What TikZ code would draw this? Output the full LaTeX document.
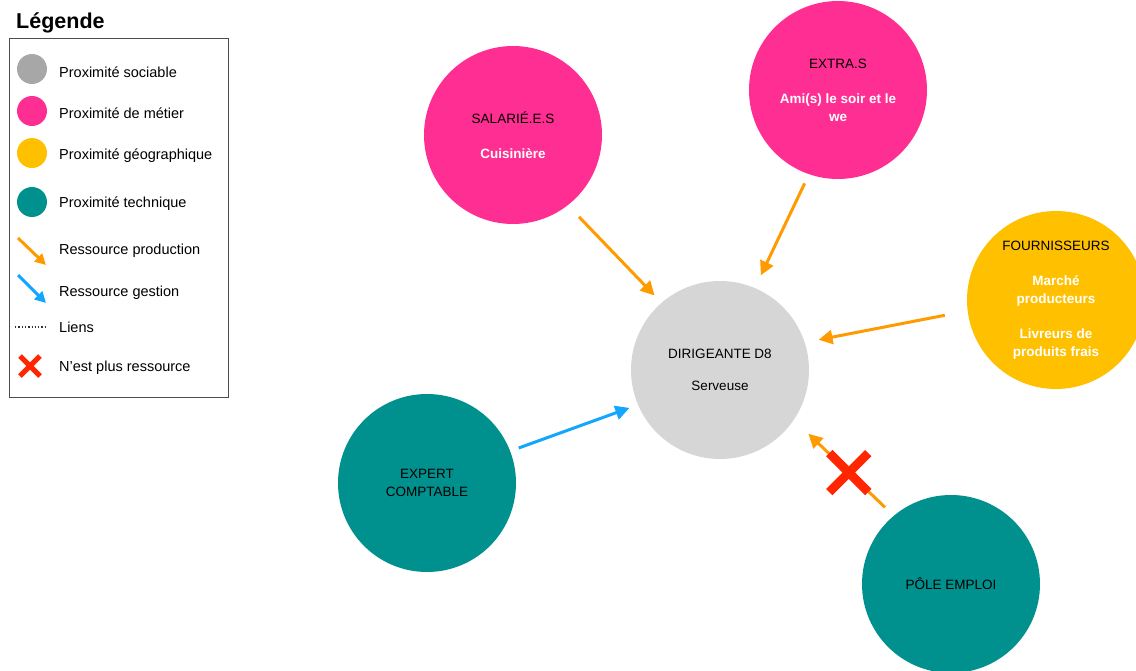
\documentclass[tikz,border=0pt]{standalone}
\usepackage{fontspec}
\setmainfont{Liberation Sans}
\usepackage{xcolor}
\usetikzlibrary{arrows.meta,shapes.misc}

\definecolor{socialgray}{HTML}{D6D6D6}
\definecolor{legendgray}{HTML}{A7A7A7}
\definecolor{metierpink}{HTML}{FF2E92}
\definecolor{geoyellow}{HTML}{FFC000}
\definecolor{techteal}{HTML}{00918F}
\definecolor{prodorange}{HTML}{FF9B00}
\definecolor{gestblue}{HTML}{12A6FF}
\definecolor{crossred}{HTML}{FF2600}

\newcommand{\detail}[1]{\textcolor{white}{\bfseries #1}}

\begin{document}
\begin{tikzpicture}[
  x=1pt, y=-1pt,
  actor/.style={circle, minimum size=178pt, inner sep=0pt, align=center, font=\fontsize{13.5}{17.5}\selectfont},
  social/.style={actor, fill=socialgray},
  metier/.style={actor, fill=metierpink},
  geo/.style={actor, fill=geoyellow},
  tech/.style={actor, fill=techteal},
  prod/.style={-{Triangle[length=14pt,width=14pt]}, line width=3pt, draw=prodorange},
  gest/.style={-{Triangle[length=14pt,width=14pt]}, line width=3pt, draw=gestblue},
  nomore/.style={cross out, draw=crossred, line width=9pt, minimum size=30pt, inner sep=0pt},
  legdot/.style={circle, minimum size=30pt, inner sep=0pt},
  legitem/.style={anchor=west, inner sep=0pt, font=\fontsize{14.5}{17}\selectfont}
]
\useasboundingbox (0,0) rectangle (1136,670);

% Actors
\node[social] (dir) at (720,370) {DIRIGEANTE D8\\[14pt]Serveuse};
\node[metier] (sal) at (513,135) {SALARIÉ.E.S\\[18pt]\detail{Cuisinière}};
\node[metier] (extra) at (838,90) {EXTRA.S\\[18pt]\detail{Ami(s) le soir et le}\\\detail{we}};
\node[geo] (fourn) at (1056,300) {FOURNISSEURS\\[18pt]\detail{Marché}\\\detail{producteurs}\\[18pt]\detail{Livreurs de}\\\detail{produits frais}};
\node[tech] (expert) at (427,483) {EXPERT\\COMPTABLE};
\node[tech] (pole) at (951,584) {PÔLE EMPLOI};

% Resources
\draw[prod, shorten <=16pt, shorten >=10pt] (sal.-52) -- (dir.131);
\draw[prod, shorten <=10pt, shorten >=14pt] (extra.-109) -- (dir.67);
\draw[prod, shorten <=23pt, shorten >=14pt] (fourn.187) -- (dir.18.6);
\draw[gest, shorten <=9pt, shorten >=9pt] (expert.21.6) -- (dir.203.4);
\draw[prod, shorten <=12pt, shorten >=20pt] (pole.130) -- (dir.-34.6);
\path (pole.130) -- node[nomore, pos=0.45] (stop) {} (dir.-34.6);

% Legend
\node[anchor=west, inner sep=0pt, font=\fontsize{21.5}{24}\selectfont\bfseries] (legtitle) at (16,23) {Légende};
\draw[draw=black!70, line width=0.8pt] (9,38) rectangle (228,397);
\node[legdot, fill=legendgray] (ldot1) at (32,69) {};
\node[legdot, fill=metierpink] (ldot2) at (32,111) {};
\node[legdot, fill=geoyellow] (ldot3) at (32,153) {};
\node[legdot, fill=techteal] (ldot4) at (32,202) {};
\node[legitem] (leg1) at (59,72) {Proximité sociable};
\node[legitem] (leg2) at (59,113) {Proximité de métier};
\node[legitem] (leg3) at (59,156) {Proximité géographique};
\node[legitem] (leg4) at (59,204) {Proximité technique};
\draw[prod, -{Triangle[length=11pt,width=11pt]}] (18,238) -- (46,265);
\node[legitem] (leg5) at (59,251) {Ressource production};
\draw[gest, -{Triangle[length=11pt,width=11pt]}] (18,275) -- (46,303);
\node[legitem] (leg6) at (59,293) {Ressource gestion};
\draw[black!80, line width=1.3pt, dotted] (15,327) -- (47,327);
\node[legitem] (leg7) at (59,327) {Liens};
\node[nomore, line width=5pt, minimum size=15pt] (lcross) at (30,366) {};
\node[legitem] (leg8) at (59,368) {N’est plus ressource};
\end{tikzpicture}
\end{document}
